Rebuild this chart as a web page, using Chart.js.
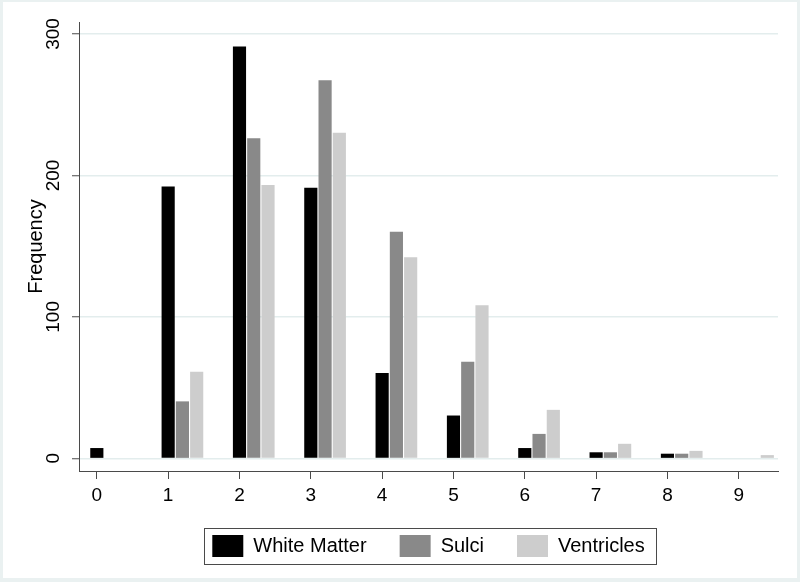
<!DOCTYPE html>
<html>
<head>
<meta charset="utf-8">
<script src="https://cdn.jsdelivr.net/npm/chart.js@4"></script>
<style>
  html, body { margin: 0; padding: 0; background: #eaf1f1; }
  #wrap { position: relative; width: 800px; height: 582px; }
  #paper { position: absolute; left: 3px; top: 2px; width: 794px; height: 576px; background: #fff; }
  #chart { position: absolute; left: 0; top: 0; }
</style>
</head>
<body>
<div id="wrap">
  <div id="paper"></div>
  <canvas id="chart" width="800" height="582"></canvas>
</div>
<script>
const categories = [0, 1, 2, 3, 4, 5, 6, 7, 8, 9];
const whiteMatter = [7, 192, 291, 191, 60, 30, 7, 4, 3, 0];
const sulci = [0, 40, 226, 267, 160, 68, 17, 4, 3, 0];
const ventricles = [0, 61, 193, 230, 142, 108, 34, 10, 5, 2];
const yTicks = [0, 100, 200, 300];
const seriesNames = ['White Matter', 'Sulci', 'Ventricles'];
const seriesColors = ['#000000', '#898989', '#cdcdcd'];

const font = 'Liberation Sans, Arial, sans-serif';

// bars of one category sit side by side, starting at the category value;
// empty counts get no bar at all
function points(values, shift) {
    return categories
        .map((c, i) => ({ x: c + shift, y: values[i] }))
        .filter(p => p.y > 0);
}

// frame round the legend, as Stata draws it
const legendFrame = {
    id: 'legendFrame',
    afterDraw(chart) {
        const boxes = chart.legend.legendHitBoxes;
        if (!boxes || !boxes.length) return;
        const first = boxes[0];
        const last = boxes[boxes.length - 1];
        const ctx = chart.ctx;
        const left = first.left - 8;
        const top = first.top - 7;
        const right = last.left + last.width + 12;
        const bottom = top + first.height + 14;
        ctx.save();
        ctx.strokeStyle = '#4a4a4a';
        ctx.lineWidth = 1;
        ctx.strokeRect(Math.round(left) + 0.5, Math.round(top) + 0.5, Math.round(right - left), Math.round(bottom - top));
        ctx.restore();
    }
};

const ctx = document.getElementById('chart').getContext('2d');
new Chart(ctx, {
    type: 'bar',
    data: {
        datasets: [
            { label: seriesNames[0], data: points(whiteMatter, 0), backgroundColor: seriesColors[0] },
            { label: seriesNames[1], data: points(sulci, 0.2), backgroundColor: seriesColors[1] },
            { label: seriesNames[2], data: points(ventricles, 0.4), backgroundColor: seriesColors[2] }
        ]
    },
    options: {
        responsive: false,
        animation: false,
        grouped: false,
        barThickness: 12.5,
        layout: { padding: { left: 0, top: 22, right: 22, bottom: 15 } },
        plugins: {
            tooltip: { enabled: false },
            legend: {
                position: 'bottom',
                fullSize: false,
                labels: {
                    boxWidth: 31,
                    boxHeight: 22,
                    padding: 33,
                    color: '#000',
                    font: { family: font, size: 20 }
                }
            }
        },
        scales: {
            x: {
                type: 'linear',
                min: -0.25,
                max: 9.55,
                offset: false,
                afterBuildTicks: scale => { scale.ticks = categories.map(v => ({ value: v })); },
                afterFit: scale => { scale.height = 31; },
                ticks: {
                    color: '#000',
                    padding: 5,
                    font: { family: font, size: 19 }
                },
                grid: {
                    offset: false,
                    drawOnChartArea: false,
                    tickLength: 8,
                    tickColor: '#4a4a4a'
                },
                border: { color: '#4a4a4a', width: 1 }
            },
            y: {
                min: -9,
                max: 308.5,
                afterBuildTicks: scale => { scale.ticks = yTicks.map(v => ({ value: v })); },
                afterFit: scale => { scale.width = 79; },
                ticks: {
                    color: '#000',
                    minRotation: 90,
                    maxRotation: 90,
                    crossAlign: 'center',
                    padding: 2,
                    font: { family: font, size: 19 }
                },
                grid: {
                    color: '#e3eded',
                    lineWidth: 1.5,
                    tickLength: 7,
                    tickColor: '#4a4a4a',
                    tickWidth: 1
                },
                border: { color: '#4a4a4a', width: 1 },
                title: {
                    display: true,
                    text: 'Frequency',
                    color: '#000',
                    padding: { top: 24, bottom: 0 },
                    font: { family: font, size: 20 }
                }
            }
        }
    },
    plugins: [legendFrame]
});
</script>
</body>
</html>
